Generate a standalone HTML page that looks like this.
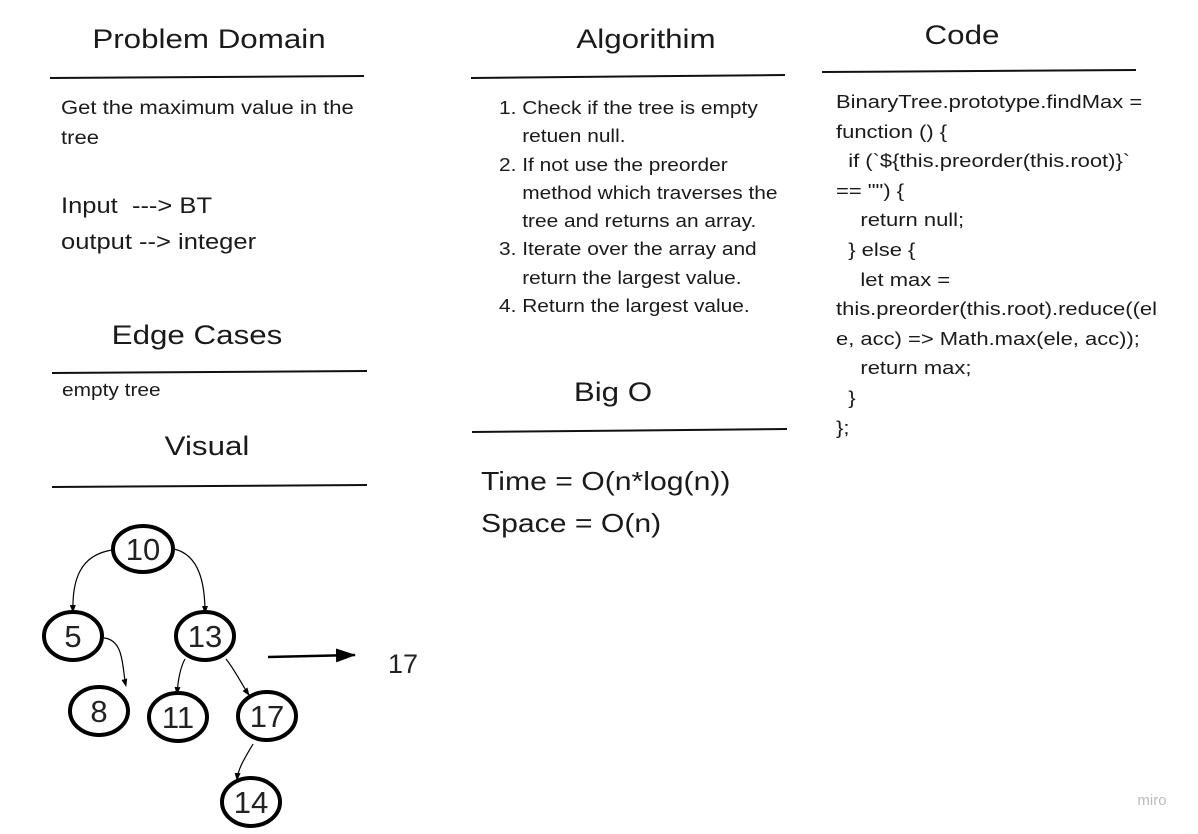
<!DOCTYPE html>
<html><head><meta charset="utf-8"><style>
body{margin:0;width:1198px;height:834px;background:#fff;position:relative;overflow:hidden;font-family:"Liberation Sans",sans-serif;color:#1a1a1a}
.t{position:absolute;white-space:nowrap;transform:scaleX(1.16);transform-origin:0 0}
.h{font-size:27px;text-align:center;width:400px;transform-origin:50% 0}
</style></head><body>
<svg width="1198" height="834" style="position:absolute;left:0;top:0">
<defs><marker id="a" markerWidth="8" markerHeight="8" refX="7" refY="4" orient="auto" markerUnits="userSpaceOnUse"><path d="M0,1L8,4L0,7z" fill="#000"/></marker>
<marker id="b" markerWidth="20" markerHeight="14" refX="19" refY="7" orient="auto" markerUnits="userSpaceOnUse"><path d="M0,0L20,7L0,14z" fill="#000"/></marker></defs>
<g stroke="#111" stroke-width="2">
<line x1="50" y1="78" x2="364" y2="76"/>
<line x1="471" y1="78" x2="785" y2="75"/>
<line x1="822" y1="72" x2="1136" y2="70"/>
<line x1="52" y1="373" x2="367" y2="371"/>
<line x1="52" y1="487" x2="367" y2="485"/>
<line x1="472" y1="432" x2="787" y2="429"/>
</g>
<g fill="none" stroke="#000" stroke-width="1.2">
<path d="M112,550 C80,555 72,580 73,612" marker-end="url(#a)"/>
<path d="M174,549 C200,555 205,585 205,613" marker-end="url(#a)"/>
<path d="M104,638 C125,640 122,670 126,686" marker-end="url(#a)"/>
<path d="M185,659 C180,668 178,680 177,694" marker-end="url(#a)"/>
<path d="M226,659 C235,670 242,685 249,695" marker-end="url(#a)"/>
<path d="M253,744 C245,758 238,768 237,780" marker-end="url(#a)"/>
<line x1="268" y1="657" x2="355" y2="655" stroke-width="2.5" marker-end="url(#b)"/>
</g>
<g fill="#fff" stroke="#000" stroke-width="4">
<ellipse cx="143" cy="549" rx="30" ry="23"/>
<ellipse cx="73" cy="636" rx="29" ry="24"/>
<ellipse cx="205" cy="636" rx="29" ry="24"/>
<ellipse cx="99" cy="711" rx="29" ry="24"/>
<ellipse cx="178" cy="717" rx="29" ry="24"/>
<ellipse cx="267" cy="716" rx="29" ry="24"/>
<ellipse cx="251" cy="802" rx="29" ry="24"/>
</g>
<g font-family="Liberation Sans,sans-serif" font-size="31" text-anchor="middle" fill="#222">
<text x="143" y="560">10</text><text x="73" y="647">5</text><text x="205" y="647">13</text>
<text x="99" y="722">8</text><text x="178" y="728">11</text><text x="267" y="727">17</text><text x="251" y="813">14</text>
<text x="403" y="673" font-size="27">17</text>
</g>
<text x="1152" y="805" font-family="Liberation Sans,sans-serif" font-size="15" fill="#bbb" text-anchor="middle">miro</text>
</svg>
<div class="t h" style="left:9px;top:24px">Problem Domain</div>
<div class="t h" style="left:446px;top:24px">Algorithim</div>
<div class="t h" style="left:762px;top:20px">Code</div>
<div class="t h" style="left:-3px;top:320px">Edge Cases</div>
<div class="t h" style="left:7px;top:431px">Visual</div>
<div class="t h" style="left:413px;top:377px">Big O</div>
<div class="t" style="left:61px;top:94px;font-size:19px;line-height:30px">Get the maximum value in the<br>tree</div>
<div class="t" style="left:61px;top:188px;font-size:22px;line-height:36px">Input&nbsp; ---&gt; BT<br>output --&gt; integer</div>
<div class="t" style="left:62px;top:380px;font-size:18px">empty tree</div>
<div class="t" style="left:499px;top:94px;font-size:18px;line-height:28.3px">1. Check if the tree is empty<br>&nbsp;&nbsp;&nbsp;&nbsp;retuen null.<br>2. If not use the preorder<br>&nbsp;&nbsp;&nbsp;&nbsp;method which traverses the<br>&nbsp;&nbsp;&nbsp;&nbsp;tree and returns an array.<br>3. Iterate over the array and<br>&nbsp;&nbsp;&nbsp;&nbsp;return the largest value.<br>4. Return the largest value.</div>
<div class="t" style="left:481px;top:460px;font-size:26px;line-height:42px">Time = O(n*log(n))<br>Space = O(n)</div>
<div class="t" style="left:836px;top:88px;font-size:18px;line-height:29.6px;transform:scaleX(1.22)">BinaryTree.prototype.findMax =<br>function () {<br>&nbsp; if (`${this.preorder(this.root)}`<br>== "") {<br>&nbsp;&nbsp;&nbsp; return null;<br>&nbsp; } else {<br>&nbsp;&nbsp;&nbsp; let max =<br>this.preorder(this.root).reduce((el<br>e, acc) =&gt; Math.max(ele, acc));<br>&nbsp;&nbsp;&nbsp; return max;<br>&nbsp; }<br>};</div>
</body></html>
